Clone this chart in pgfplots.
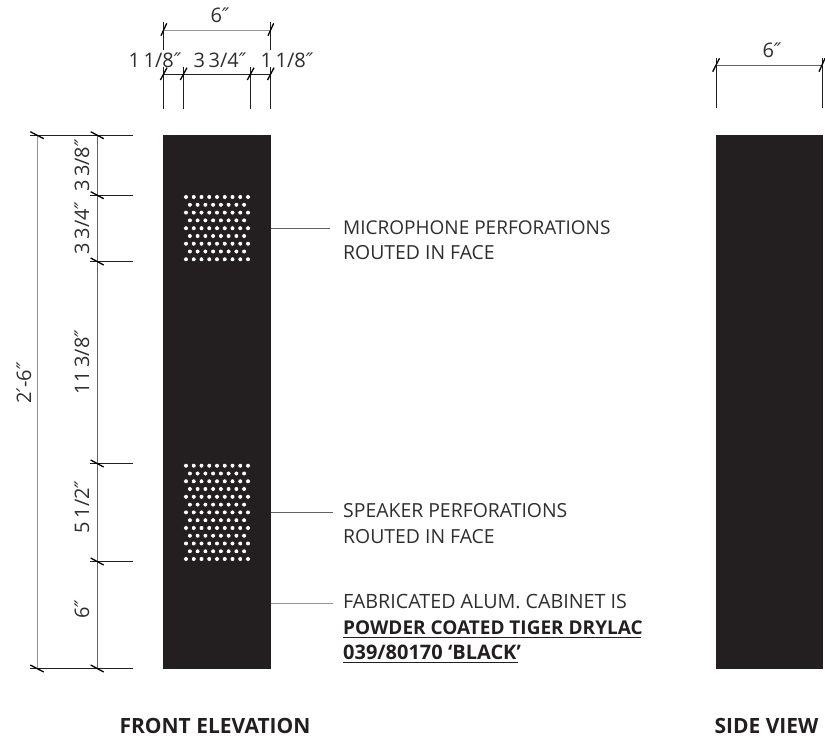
\documentclass[border=0pt]{standalone}
\usepackage{pgfplots}
\pgfplotsset{compat=1.18}
\usepackage{fontspec}
\setmainfont{Open Sans}
\newfontfamily\sym{DejaVu Sans}
\definecolor{ink}{HTML}{231F20}
\definecolor{txt}{HTML}{2F2D2E}
\newcommand{\lab}[1][19.4]{\fontsize{#1}{19}\selectfont\color{txt}}
\newcommand{\dimt}{\fontsize{20}{20}\selectfont\color{txt}}
\newcommand{\bld}{\fontsize{19}{19}\selectfont\bfseries\color{ink}}
\newcommand{\ttl}{\fontsize{21}{21}\selectfont\bfseries\color{ink}}
\newcommand{\dq}{{\sym\itshape ″}}
\newcommand{\sq}{{\sym\itshape ′}}
\newcommand{\gp}{\hspace{.18em}}
\tikzset{every node/.style={inner sep=0pt}}
\begin{document}
\begin{tikzpicture}
\path[use as bounding box] (0,0) rectangle (825pt,740pt);
\begin{axis}[
    at={(0,0)}, anchor=south west,
    scale only axis, width=825pt, height=740pt,
    xmin=0, xmax=825, ymin=0, ymax=740,
    y dir=reverse,
    hide axis, clip=false,
    unbounded coords=jump,
    thin1/.style={no marks, draw=ink, line width=.8pt},
    grey1/.style={no marks, draw=black!42, line width=1pt},
    mid1/.style={no marks, draw=black!62, line width=.8pt},
    slash/.style={no marks, draw=black, line width=1.3pt},
]
% cabinet faces
\addplot[fill=ink, draw=none, no marks] coordinates {(163,135) (270.5,135) (270.5,668.5) (163,668.5)} --cycle;
\addplot[fill=ink, draw=none, no marks] coordinates {(716,135) (822.7,135) (822.7,668.5) (716,668.5)} --cycle;
% extension lines
\addplot[thin1] coordinates {(163.4,22) (163.4,50) (nan,nan) (270.5,22) (270.5,50)
  (nan,nan) (163.4,67) (163.4,109) (nan,nan) (183.3,67) (183.3,109)
  (nan,nan) (250.3,67) (250.3,109) (nan,nan) (270.5,67) (270.5,109)
  (nan,nan) (716.3,58) (716.3,108) (nan,nan) (822.5,58) (822.5,108)
  (nan,nan) (30,135) (133,135) (nan,nan) (90,195) (133,195)
  (nan,nan) (90,261.3) (133,261.3) (nan,nan) (90,463.5) (133,463.5)
  (nan,nan) (90,561.5) (133,561.5) (nan,nan) (30,668.7) (133,668.7)
  (nan,nan) (163.4,74) (270.5,74)};
% dimension and leader lines
\addplot[grey1] coordinates {(163.4,30) (270.5,30) (nan,nan) (37,135) (37,668.7) (nan,nan) (270.5,603.5) (333,603.5)};
\addplot[mid1] coordinates {(97.5,135) (97.5,668.7) (nan,nan) (716.3,65) (822.5,65)
  (nan,nan) (270.5,228) (330,228) (nan,nan) (270.5,512.7) (333,512.7)};
% tick slashes
\addplot[slash] coordinates {(161,35.7) (166.7,23.3) (nan,nan) (268,35.7) (273.7,23.3)
  (nan,nan) (160.4,80) (167,67.7) (nan,nan) (180.3,80) (187,67.7)
  (nan,nan) (247.3,80) (254,67.7) (nan,nan) (267.5,80) (274,67.7)
  (nan,nan) (712.7,71.7) (719.5,58.3) (nan,nan) (819,71.7) (825,58.3)
  (nan,nan) (30.3,131.7) (43.7,138.7) (nan,nan) (90.7,131.7) (103.7,138.7)
  (nan,nan) (90.7,191.7) (103.7,198.7) (nan,nan) (90.7,258) (103.7,265)
  (nan,nan) (90.7,460) (103.7,467) (nan,nan) (90.7,558) (103.7,565)
  (nan,nan) (30.3,665) (43.7,672) (nan,nan) (90.7,665) (103.7,672)};
% underlines
\addplot[no marks, draw=ink, line width=1pt] coordinates {(343,637.3) (641,637.3) (nan,nan) (343,662.3) (518,662.3)};
% microphone perforations
\addplot[only marks, mark=*, mark size=2.4pt, mark options={fill=white, draw=none}] coordinates {
 (186,197) (193.75,197) (201.5,197) (209.25,197) (217,197) (224.75,197) (232.5,197) (240.25,197) (248,197)
 (189.9,204.8) (197.6,204.8) (205.4,204.8) (213.1,204.8) (220.9,204.8) (228.6,204.8) (236.4,204.8) (244.1,204.8)
 (186,212.6) (193.75,212.6) (201.5,212.6) (209.25,212.6) (217,212.6) (224.75,212.6) (232.5,212.6) (240.25,212.6) (248,212.6)
 (189.9,220.4) (197.6,220.4) (205.4,220.4) (213.1,220.4) (220.9,220.4) (228.6,220.4) (236.4,220.4) (244.1,220.4)
 (186,228.2) (193.75,228.2) (201.5,228.2) (209.25,228.2) (217,228.2) (224.75,228.2) (232.5,228.2) (240.25,228.2) (248,228.2)
 (189.9,236) (197.6,236) (205.4,236) (213.1,236) (220.9,236) (228.6,236) (236.4,236) (244.1,236)
 (186,243.7) (193.75,243.7) (201.5,243.7) (209.25,243.7) (217,243.7) (224.75,243.7) (232.5,243.7) (240.25,243.7) (248,243.7)
 (189.9,251.5) (197.6,251.5) (205.4,251.5) (213.1,251.5) (220.9,251.5) (228.6,251.5) (236.4,251.5) (244.1,251.5)
 (186,259.3) (193.75,259.3) (201.5,259.3) (209.25,259.3) (217,259.3) (224.75,259.3) (232.5,259.3) (240.25,259.3) (248,259.3)
};
% speaker perforations
\addplot[only marks, mark=*, mark size=2.4pt, mark options={fill=white, draw=none}] coordinates {
 (186,465.7) (193.75,465.7) (201.5,465.7) (209.25,465.7) (217,465.7) (224.75,465.7) (232.5,465.7) (240.25,465.7) (248,465.7)
 (189.9,473.5) (197.6,473.5) (205.4,473.5) (213.1,473.5) (220.9,473.5) (228.6,473.5) (236.4,473.5) (244.1,473.5)
 (186,481.3) (193.75,481.3) (201.5,481.3) (209.25,481.3) (217,481.3) (224.75,481.3) (232.5,481.3) (240.25,481.3) (248,481.3)
 (189.9,489) (197.6,489) (205.4,489) (213.1,489) (220.9,489) (228.6,489) (236.4,489) (244.1,489)
 (186,496.8) (193.75,496.8) (201.5,496.8) (209.25,496.8) (217,496.8) (224.75,496.8) (232.5,496.8) (240.25,496.8) (248,496.8)
 (189.9,504.6) (197.6,504.6) (205.4,504.6) (213.1,504.6) (220.9,504.6) (228.6,504.6) (236.4,504.6) (244.1,504.6)
 (186,512.4) (193.75,512.4) (201.5,512.4) (209.25,512.4) (217,512.4) (224.75,512.4) (232.5,512.4) (240.25,512.4) (248,512.4)
 (189.9,520.2) (197.6,520.2) (205.4,520.2) (213.1,520.2) (220.9,520.2) (228.6,520.2) (236.4,520.2) (244.1,520.2)
 (186,528) (193.75,528) (201.5,528) (209.25,528) (217,528) (224.75,528) (232.5,528) (240.25,528) (248,528)
 (189.9,535.7) (197.6,535.7) (205.4,535.7) (213.1,535.7) (220.9,535.7) (228.6,535.7) (236.4,535.7) (244.1,535.7)
 (186,543.5) (193.75,543.5) (201.5,543.5) (209.25,543.5) (217,543.5) (224.75,543.5) (232.5,543.5) (240.25,543.5) (248,543.5)
 (189.9,551.3) (197.6,551.3) (205.4,551.3) (213.1,551.3) (220.9,551.3) (228.6,551.3) (236.4,551.3) (244.1,551.3)
 (186,559) (193.75,559) (201.5,559) (209.25,559) (217,559) (224.75,559) (232.5,559) (240.25,559) (248,559)
};
% top dimensions
\node at (axis cs:220,15) {\dimt 6\dq};
\node at (axis cs:155,60) {\dimt 1\gp1/8\dq};
\node at (axis cs:220,60) {\dimt 3\gp3/4\dq};
\node at (axis cs:287,60) {\dimt 1\gp1/8\dq};
\node at (axis cs:772,50) {\dimt 6\dq};
% left dimensions
\node[rotate=90] at (axis cs:82,165.5) {\dimt 3\gp3/8\dq};
\node[rotate=90] at (axis cs:82,228) {\dimt 3\gp3/4\dq};
\node[rotate=90] at (axis cs:82,362) {\dimt 11\gp3/8\dq};
\node[rotate=90] at (axis cs:82,507) {\dimt 5\gp1/2\dq};
\node[rotate=90] at (axis cs:82,609) {\dimt 6\dq};
\node[rotate=90] at (axis cs:24,383) {\dimt 2\sq-6\dq};
% notes
\node[anchor=base west] at (axis cs:343,234) {\lab[19] MICROPHONE PERFORATIONS};
\node[anchor=base west] at (axis cs:343,259.3) {\lab ROUTED IN FACE};
\node[anchor=base west] at (axis cs:343,517.5) {\lab SPEAKER PERFORATIONS};
\node[anchor=base west] at (axis cs:343,543) {\lab ROUTED IN FACE};
\node[anchor=base west] at (axis cs:343,608.5) {\lab[19.7] FABRICATED ALUM. CABINET IS};
\node[anchor=base west] at (axis cs:343,634) {\bld POWDER COATED TIGER DRYLAC};
\node[anchor=base west] at (axis cs:343,659.5) {\bld\fontsize{20}{20}\selectfont 039/80170 ‘BLACK’};
% view titles
\node[anchor=base] at (axis cs:215,733.3) {\ttl FRONT ELEVATION};
\node[anchor=base] at (axis cs:766.5,733.3) {\ttl SIDE VIEW};
\end{axis}
\end{tikzpicture}
\end{document}
